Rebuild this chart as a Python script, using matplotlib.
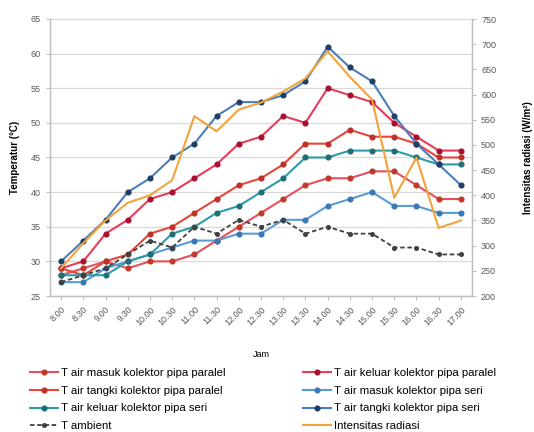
import matplotlib
matplotlib.use("Agg")
import matplotlib.pyplot as plt
import numpy as np

plt.rcParams['font.family'] = ['Liberation Sans', 'DejaVu Sans']

times = ["8.00", "8.30", "9.00", "9.30", "10.00", "10.30", "11.00", "11.30", "12.00",
         "12.30", "13.00", "13.30", "14.00", "14.30", "15.00", "15.30", "16.00", "16.30", "17.00"]

masuk_paralel = [28, 29, 30, 29, 30, 30, 31, 33, 35, 37, 39, 41, 42, 42, 43, 43, 41, 39, 39]
keluar_paralel = [29, 30, 34, 36, 39, 40, 42, 44, 47, 48, 51, 50, 55, 54, 53, 50, 48, 46, 46]
tangki_paralel = [29, 28, 30, 31, 34, 35, 37, 39, 41, 42, 44, 47, 47, 49, 48, 48, 47, 45, 45]
masuk_seri = [27, 27, 29, 30, 31, 32, 33, 33, 34, 34, 36, 36, 38, 39, 40, 38, 38, 37, 37]
keluar_seri = [28, 28, 28, 30, 31, 34, 35, 37, 38, 40, 42, 45, 45, 46, 46, 46, 45, 44, 44]
tangki_seri = [30, 33, 36, 40, 42, 45, 47, 51, 53, 53, 54, 56, 61, 58, 56, 51, 47, 44, 41]
t_ambient = [27, 28, 29, 31, 33, 32, 35, 34, 36, 35, 36, 34, 35, 34, 34, 32, 32, 31, 31]
radiasi = [255, 305, 350, 385, 400, 430, 557, 527, 570, 584, 606, 632, 686, 635, 590, 395, 475, 335, 350]

labels = ["T air masuk kolektor pipa paralel", "T air keluar kolektor pipa paralel",
          "T air tangki kolektor pipa paralel", "T air masuk kolektor pipa seri",
          "T air keluar kolektor pipa seri", "T air tangki kolektor pipa seri",
          "T ambient", "Intensitas radiasi"]

W, H = 534, 432
fig = plt.figure(figsize=(W / 100, H / 100), dpi=100)
ax = fig.add_axes([50 / W, 1 - 296 / H, (472 - 50) / W, (296 - 19) / H])
ax2 = ax.twinx()

x = np.arange(len(times))
grid_c = '#D9D9D9'
axis_c = '#BFBFBF'
tick_c = '#595959'

series = [
    (masuk_paralel, '#E5505A', '#C0392B', '-'),
    (keluar_paralel, '#E63C5A', '#A8102E', '-'),
    (tangki_paralel, '#E8453C', '#C0302A', '-'),
    (masuk_seri, '#5B9BD5', '#3A78B5', '-'),
    (keluar_seri, '#2E9CA6', '#1D6E76', '-'),
    (tangki_seri, '#4A7EBB', '#1F3F66', '-'),
]
handles = []
for (vals, lc, mc, ls), lab in zip(series, labels[:6]):
    h, = ax.plot(x, vals, color=lc, lw=1.5, ls=ls, marker='o', ms=3.4,
                 mfc=mc, mec=mc, label=lab, zorder=3)
    handles.append(h)
h, = ax.plot(x, t_ambient, color='#404040', lw=1.3, ls=(0, (2.5, 1.5)), marker='o', ms=2.6,
             mfc='#404040', mec='#404040', label=labels[6], zorder=3)
handles.append(h)
h, = ax2.plot(x, radiasi, color='#F2A33A', lw=1.5, label=labels[7], zorder=3)
handles.append(h)

ax.set_xlim(-0.5, len(times) - 0.5)
ax.set_ylim(25, 65)
ax.set_yticks(np.arange(25, 66, 5))
ax2.set_ylim(200, 750)
ax2.set_yticks(np.arange(200, 751, 50))
ax.set_xticks(x)
ax.set_xticklabels(times, rotation=45, ha='right', va='top', rotation_mode='anchor')

ax.yaxis.grid(True, color=grid_c, lw=0.9)
ax.set_axisbelow(True)
for a in (ax, ax2):
    a.spines['top'].set_visible(False)
    for s in ('left', 'right', 'bottom'):
        a.spines[s].set_color(axis_c)
        a.spines[s].set_linewidth(0.9)
    a.tick_params(colors=tick_c, labelsize=6.5, length=3, width=0.8)
    a.tick_params(axis='both', color=axis_c)

ax.set_ylabel("Temperatur (°C)", fontsize=7, fontweight='bold', labelpad=8)
ax2.set_ylabel("Intensitas radiasi (W/m²)", fontsize=7, fontweight='bold', labelpad=19)
ax.set_xlabel("Jam", fontsize=6.5, labelpad=16)

leg_kw = dict(loc='upper left', frameon=False, fontsize=8.2, borderpad=0, borderaxespad=0,
              handlelength=2.5, handletextpad=0.2, labelspacing=0.68)
left_idx = [0, 2, 4, 6]
right_idx = [1, 3, 5, 7]
fig.legend([handles[i] for i in left_idx], [labels[i] for i in left_idx],
           bbox_to_anchor=(30 / W, 1 - 368 / H), **leg_kw)
fig.legend([handles[i] for i in right_idx], [labels[i] for i in right_idx],
           bbox_to_anchor=(303 / W, 1 - 368 / H), **leg_kw)

fig.savefig("out.png", dpi=100)
